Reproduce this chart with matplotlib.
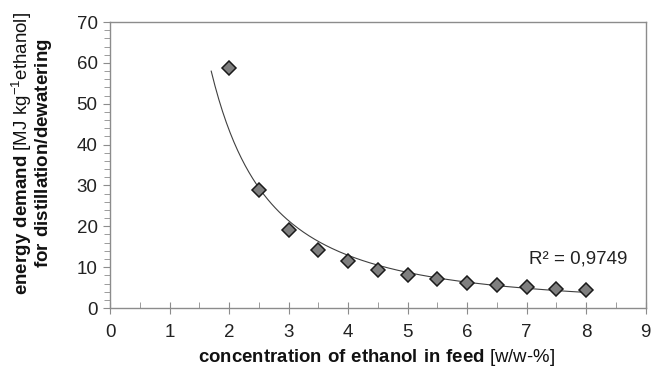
import numpy as np
import matplotlib.pyplot as plt
from matplotlib.ticker import MultipleLocator

plt.rcParams['font.family'] = 'Liberation Sans'
plt.rcParams['mathtext.fontset'] = 'custom'
plt.rcParams['mathtext.rm'] = 'Liberation Sans'
plt.rcParams['mathtext.bf'] = 'Liberation Sans:bold'

# concentration of ethanol in feed [w/w-%] vs energy demand [MJ/kg ethanol]
conc = [2.0, 2.5, 3.0, 3.5, 4.0, 4.5, 5.0, 5.5, 6.0, 6.5, 7.0, 7.5, 8.0]
energy = [58.8, 28.8, 19.2, 14.3, 11.4, 9.4, 8.2, 7.1, 6.2, 5.7, 5.1, 4.6, 4.4]
r2_label = 'R² = 0,9749'

fig = plt.figure(figsize=(6.51, 3.68), dpi=100)
ax = fig.add_axes([0.169, 0.163, 0.823, 0.777])

# power trendline (log-log least squares, like excel), backcast to 1.7
b, loga = np.polyfit(np.log(conc), np.log(energy), 1)
xt = np.linspace(1.7, 8.0, 200)
ax.plot(xt, np.exp(loga) * xt ** b, color='#404040', lw=0.8, zorder=2)

ax.plot(conc, energy, linestyle='none', marker='D', markersize=7,
        markerfacecolor='#7f7f7f', markeredgecolor='#1a1a1a',
        markeredgewidth=1.1, zorder=3)

ax.text(7.87, 12, r2_label, fontsize=13.5, color='#222222', ha='center', va='center')

ax.set_xlim(0, 9)
ax.set_ylim(0, 70)
ax.xaxis.set_major_locator(MultipleLocator(1))
ax.xaxis.set_minor_locator(MultipleLocator(0.5))
ax.yaxis.set_major_locator(MultipleLocator(10))
ax.yaxis.set_minor_locator(MultipleLocator(2))

for s in ax.spines.values():
    s.set_color('#8c8c8c')
    s.set_linewidth(1.0)
ax.tick_params(axis='x', which='major', direction='inout', length=9,
               color='#8c8c8c', labelsize=13.5, labelcolor='#222222', pad=7)
ax.tick_params(axis='x', which='minor', direction='in', length=4, color='#8c8c8c')
ax.tick_params(axis='y', which='both', direction='out', color='#8c8c8c',
               labelsize=13.5, labelcolor='#222222', pad=4)
ax.tick_params(axis='y', which='major', length=5)
ax.tick_params(axis='y', which='minor', length=4)

fig.text(0.579, 0.028,
         r'$\mathbf{concentration\ of\ ethanol\ in\ feed}$ [w/w-%]',
         fontsize=13.4, color='#111111', ha='center', va='center')
fig.text(0.048, 0.584,
         '$\\mathbf{energy\\ demand}$ [MJ kg$^{-1}$ethanol]\n'
         '$\\mathbf{for\\ distillation/dewatering}$',
         fontsize=13.5, color='#111111', ha='center', va='center',
         rotation=90, multialignment='center', linespacing=0.95)

fig.savefig('out.png', dpi=100)
